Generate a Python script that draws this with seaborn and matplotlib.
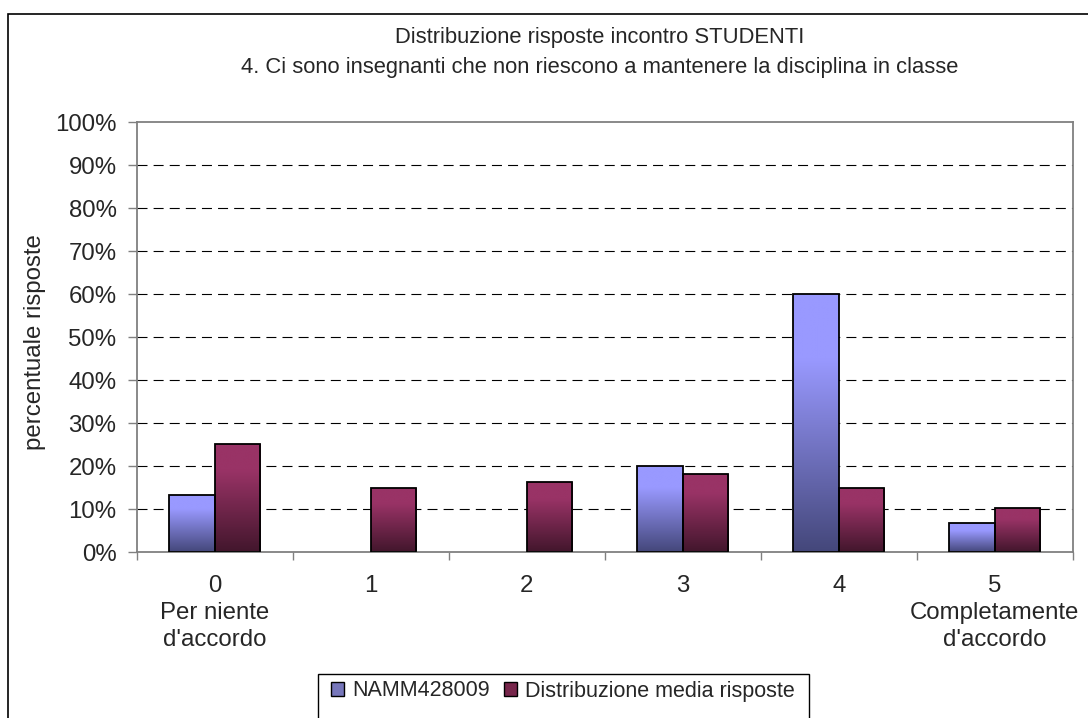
import numpy as np
import pandas as pd
import matplotlib
matplotlib.use("Agg")
import matplotlib.pyplot as plt
import seaborn as sns
from matplotlib.colors import LinearSegmentedColormap
from matplotlib.patches import Rectangle, Patch

categories = ["0\nPer niente\nd'accordo", "1", "2", "3", "4", "5\nCompletamente\nd'accordo"]
series_names = ["NAMM428009", "Distribuzione media risposte"]
namm_values = [13.3, 0, 0, 20.0, 60.0, 6.7]
media_values = [25.2, 15.0, 16.4, 18.2, 15.0, 10.2]
ytick_values = list(range(0, 101, 10))
ytick_labels = [f"{v}%" for v in ytick_values]
title_line1 = "Distribuzione risposte incontro STUDENTI"
title_line2 = "4. Ci sono insegnanti che non riescono a mantenere la disciplina in classe"
ylabel = "percentuale risposte"

sns.set_style("white")
plt.rcParams['font.family'] = ['Liberation Sans', 'DejaVu Sans']
FS_AX = 17.3
FS_TITLE = 15.8
FS_LEG = 15.5

df = pd.DataFrame({
    "cat": categories * 2,
    "serie": [series_names[0]] * 6 + [series_names[1]] * 6,
    "val": namm_values + media_values,
})

W, H = 1088, 718
fig = plt.figure(figsize=(W / 100, H / 100), dpi=100)
fig.patch.set_facecolor("white")
ax = fig.add_axes([136.7 / W, 1 - 552.3 / H, (1072.7 - 136.7) / W, (552.3 - 122.3) / H])

top_cols = {"NAMM428009": "#9999FF", "Distribuzione media risposte": "#993366"}
bot_cols = {"NAMM428009": "#44477A", "Distribuzione media risposte": "#42162C"}

sns.barplot(data=df, x="cat", y="val", hue="serie", hue_order=series_names,
            order=categories, palette=top_cols, width=0.58, gap=0,
            edgecolor="black", linewidth=1.3, legend=False, ax=ax, zorder=3)

ax.set_xlim(-0.5, 5.5)
ax.set_ylim(0, 100)

# gradients
bars = list(ax.patches)
for i, bar in enumerate(bars):
    name = series_names[0] if i < 6 else series_names[1]
    x0, y0, w, h = bar.get_x(), bar.get_y(), bar.get_width(), bar.get_height()
    if h <= 0:
        bar.set_linewidth(0)
        continue
    cmap = LinearSegmentedColormap.from_list("g", [(0, bot_cols[name]), (0.75, top_cols[name]), (1, top_cols[name])])
    grad = np.linspace(0, 1, 256).reshape(-1, 1)
    im = ax.imshow(grad, extent=[x0, x0 + w, y0, y0 + h], origin="lower",
                   cmap=cmap, aspect="auto", zorder=2.5, interpolation="bilinear")
    im.set_clip_path(bar)
    bar.set_facecolor("none")
ax.set_xlim(-0.5, 5.5)
ax.set_ylim(0, 100)
ax.set_aspect("auto")

# gridlines
for v in ytick_values[1:-1]:
    ax.axhline(v, color="black", linewidth=0.8, linestyle=(0, (9, 5.5)), zorder=1)

for s in ax.spines.values():
    s.set_color("#808080")
    s.set_linewidth(1.3)

ax.set_yticks(ytick_values)
ax.set_yticklabels(ytick_labels, fontsize=FS_AX)
ax.tick_params(axis="y", length=6.5, width=1, color="#808080", pad=8, left=True)
ax.set_xticks(range(6))
ax.set_xticklabels(categories, fontsize=FS_AX, linespacing=1.3, va="top")
ax.tick_params(axis="x", which="major", length=0, pad=16)
ax.set_xticks(np.arange(-0.5, 6, 1), minor=True)
ax.tick_params(axis="x", which="minor", length=6, width=1, color="#808080", bottom=True)
ax.set_xlabel("")
ax.set_ylabel("")

fig.text(600 / W, 1 - 38 / H, title_line1, ha="center", va="center", fontsize=FS_TITLE)
fig.text(600 / W, 1 - 68 / H, title_line2, ha="center", va="center", fontsize=FS_TITLE)
fig.text(35 / W, 1 - 342 / H, ylabel, ha="center", va="center", rotation=90, fontsize=FS_AX)

# figure frame
fig.patches.append(Rectangle((8 / W, -0.2), 1.2, 1.2 - 14 / H, transform=fig.transFigure,
                             fill=False, edgecolor="black", linewidth=1.2, zorder=0))
# legend frame
fig.patches.append(Rectangle((318 / W, -0.1), (809 - 318) / W, 0.1 + 1 - 674 / H, transform=fig.transFigure,
                             fill=False, edgecolor="black", linewidth=1.0))
handles = [Patch(facecolor="#7777BB", edgecolor="black", linewidth=1.0),
           Patch(facecolor="#77264B", edgecolor="black", linewidth=1.0)]
fig.legend(handles, series_names, loc="center", bbox_to_anchor=(563 / W, 1 - 691 / H),
           ncol=2, frameon=False, fontsize=FS_LEG, handlelength=0.6, handleheight=0.6,
           handletextpad=0.35, columnspacing=0.7)

fig.savefig("out.png", dpi=100, facecolor="white")
